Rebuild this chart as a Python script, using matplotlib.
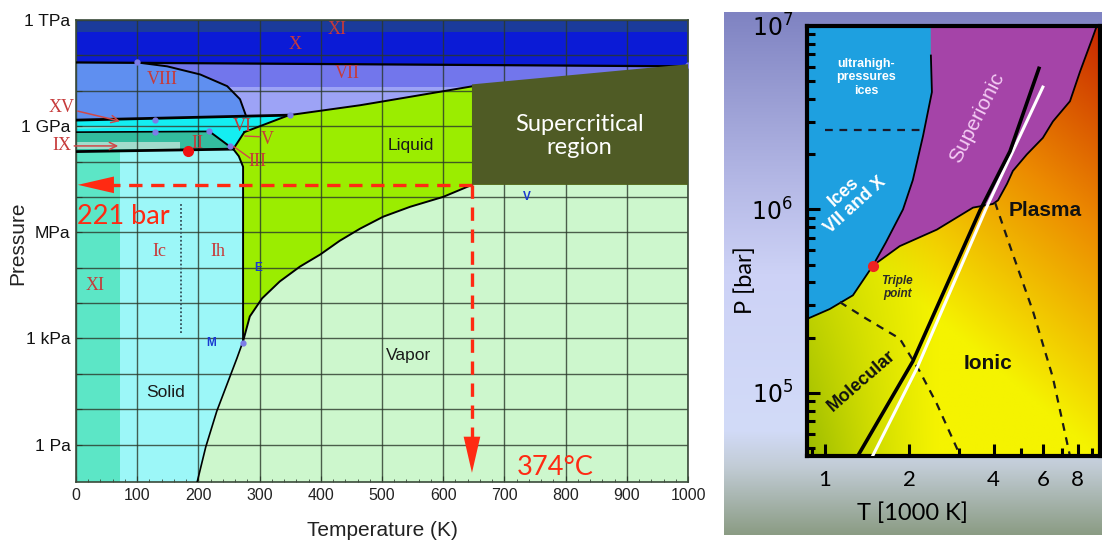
import numpy as np
import matplotlib
matplotlib.use("Agg")
import matplotlib.pyplot as plt
from matplotlib.colors import to_rgb

W, H = 1102, 545
plt.rcParams['mathtext.fontset'] = 'custom'
plt.rcParams['mathtext.rm'] = 'Lato'

NARROW = ['Liberation Sans Narrow', 'Liberation Sans', 'DejaVu Sans']
SANS = ['Liberation Sans', 'DejaVu Sans']
SERIF = ['Liberation Serif', 'DejaVu Serif']
HAND = ['Lato', 'DejaVu Sans']
RED = '#ff2a12'
NUMERAL = '#c63a3a'

# ---------------- left panel: water, T in K, log10(P / Pa)
LP_MIN, LP_MAX = -1.06, 12.0
xi_top_lp = 11.65
x_line_t = [0, 1000]
x_line_lp = [10.80, 10.69]
vii_light_lp = 10.1
viii_t = [0, 100, 149, 203, 247, 268, 278]
viii_lp = [10.80, 10.80, 10.69, 10.46, 10.13, 9.76, 9.28]
vi_top_t = [0, 348]
vi_top_lp = [9.17, 9.31]
ii_top_t = [0, 218]
ii_top_lp = [8.83, 8.85]
ii_iii_t = [218, 257]
ii_iii_lp = [8.85, 8.35]
ih_top_t = [0, 257]
ih_top_lp = [8.28, 8.35]
xi_edge_t = 72
ix_band_t = [0, 170]
ix_band_lp = [8.36, 8.55]
melt_hi_t = [275, 348, 464, 502, 649, 1000]
melt_hi_lp = [8.83, 9.31, 9.59, 9.70, 10.13, 10.69]
melt_lo_t = [275, 257, 266, 273, 273]
melt_lo_lp = [8.83, 8.35, 8.15, 7.85, 2.92]
vap_t = [273, 284, 304, 333, 366, 399, 431, 464, 502, 546, 600, 647]
vap_lp = [2.92, 3.62, 4.13, 4.61, 5.03, 5.37, 5.76, 6.10, 6.44, 6.72, 7.0, 7.34]
subl_t = [273, 263, 230, 212, 198]
subl_lp = [2.92, 2.44, 0.94, -0.07, -1.06]
ic_ih_t = 172
ic_ih_lp = [3.14, 6.83]
crit_t, crit_lp = 647, 7.34
arrow_tip_t, arrow_tip_lp = 3, -0.80
box_t = [647, 647, 1000, 1000]
box_lp = [7.34, 10.18, 10.75, 7.34]
point_t = [100, 129, 129, 218, 350, 273, 1000, 252]
point_lp = [10.80, 9.17, 8.83, 8.85, 9.31, 2.86, 10.72, 8.45]
ice2_dot = (183, 8.30)

numerals = [('XI', 426, 11.73), ('X', 358, 11.31), ('VII', 444, 10.49), ('VIII', 141, 10.32),
            ('II', 198, 8.52), ('VI', 271, 9.0), ('V', 312, 8.63), ('III', 297, 8.0),
            ('Ic', 137, 5.45), ('Ih', 232, 5.45), ('XI', 31, 4.49)]
phase_names = [('Liquid', 547, 8.46), ('Vapor', 544, 2.52), ('Solid', 147, 1.48)]
blue_marks = [('E', 297, 5.0), ('M', 221, 2.86), ('V', 737, 7.0)]
y_tick_lp = list(range(0, 13))
y_tick_text = ['1 Pa', '', '', '1 kPa', '', '', 'MPa', '', '', '1 GPa', '', '', '1 TPa']
x_ticks = list(range(0, 1001, 100))

# ---------------- right panel: T in 1000 K, log10(P / bar)
ice_t = [0.80, 0.863, 1.04, 1.259, 1.484, 1.65, 1.90, 2.06, 2.24, 2.41, 2.39, 2.39, 0.80]
ice_lp = [5.40, 5.403, 5.457, 5.532, 5.694, 5.82, 6.0, 6.16, 6.40, 6.64, 6.839, 7.05, 7.05]
sup_t = [1.484, 1.65, 1.90, 2.06, 2.24, 2.41, 2.39, 2.39, 9.6, 9.0, 8.14, 7.5, 6.52, 6.0, 5.26,
         4.69, 4.47, 4.15, 3.98, 3.38, 2.51, 1.85, 1.484]
sup_lp = [5.694, 5.82, 6.0, 6.16, 6.40, 6.64, 6.839, 7.05, 7.05, 6.93, 6.75, 6.59, 6.48, 6.39,
          6.30, 6.21, 6.14, 6.05, 6.03, 6.01, 5.89, 5.80, 5.694]
ice_dash_t = [1.0, 2.18]
ice_dash_lp = 6.435
melt_t = [1.31, 2.06, 3.58, 4.58, 5.81]
melt_lp = [4.656, 5.172, 5.995, 6.317, 6.769]
white_t = [1.48, 2.13, 3.79, 6.0]
white_lp = [4.656, 5.134, 6.016, 6.667]
mol_t = [1.13, 1.41, 1.85, 2.18, 2.51, 2.98]
mol_lp = [5.495, 5.403, 5.296, 5.118, 4.94, 4.688]
plasma_t = [4.05, 4.58, 5.53, 6.51, 7.5]
plasma_lp = [6.038, 5.80, 5.446, 5.086, 4.656]
triple = (1.484, 5.694)
r_xticks = [1, 2, 4, 6, 8]
r_yticks = [5, 6, 7]

fig = plt.figure(figsize=(W / 100, H / 100), dpi=100)

# ================= left chart
ax = fig.add_axes([76 / W, 1 - 482 / H, 612 / W, 462 / H])
ax.set_yscale('log')
ax.set_xlim(0, 1000)
ax.set_ylim(10 ** LP_MIN, 10 ** LP_MAX)
ax.set_facecolor('#cdf7cd')

def P(lp):
    return 10 ** np.asarray(lp, dtype=float)

def poly(ts, lps, color, z=1):
    ax.fill(ts, P(lps), color=color, lw=0, zorder=z)

poly([0, 1000, 1000, 0], [8.8, 8.8, 10.85, 10.85], '#7276ec')
poly([0, 1000, 1000, 0], [8.8, 8.8, vii_light_lp, vii_light_lp], '#9da3f6')
ax.fill_between(x_line_t, P(x_line_lp), 10 ** LP_MAX, color='#0b1bd6', lw=0, zorder=1)
ax.fill_between(x_line_t, 10 ** xi_top_lp, 10 ** LP_MAX, color='#1b3b9b', lw=0, zorder=1)
poly(viii_t + [0], viii_lp + [vi_top_lp[0]], '#5f8ff0')
poly(vi_top_t + melt_hi_t[:1] + melt_lo_t[1:2] + ii_iii_t[::-1] + ii_top_t[::-1],
     vi_top_lp + melt_hi_lp[:1] + melt_lo_lp[1:2] + ii_iii_lp[::-1] + ii_top_lp[::-1], '#14eef2')
poly([0, 218, 0], [9.0, 9.0, 8.93], '#7cf0e4')
poly(ii_top_t + ii_iii_t[1:] + ih_top_t[::-1], ii_top_lp + ii_iii_lp[1:] + ih_top_lp[::-1], '#33bc9e')
poly([ix_band_t[0], ix_band_t[1], ix_band_t[1], ix_band_t[0]],
     [ix_band_lp[0], ix_band_lp[0], ix_band_lp[1], ix_band_lp[1]], '#a2dccc')
poly([0] + subl_t[::-1] + melt_lo_t[:1:-1] + melt_lo_t[1:2] + ih_top_t[::-1],
     [LP_MIN] + subl_lp[::-1] + melt_lo_lp[:1:-1] + melt_lo_lp[1:2] + ih_top_lp[::-1], '#9cf7f8')
poly([0, xi_edge_t, xi_edge_t, 0], [LP_MIN, LP_MIN, ih_top_lp[0], ih_top_lp[0]], '#5ce6c6')
poly(vap_t + [1000] + melt_hi_t[::-1] + melt_lo_t[1:],
     vap_lp + [crit_lp] + melt_hi_lp[::-1] + melt_lo_lp[1:], '#9bed00')

# grid
for t in x_ticks:
    ax.axvline(t, color='#2a382a', lw=1, alpha=0.8, zorder=2)
for lp in y_tick_lp:
    ax.axhline(10 ** lp, color='#2a382a', lw=1, alpha=0.8, zorder=2)

# phase boundaries
for ts, lps, lw in [(x_line_t, x_line_lp, 1.6), (viii_t[1:], viii_lp[1:], 1.4), (vi_top_t, vi_top_lp, 2.0),
                    (ii_top_t, ii_top_lp, 1.2), (ii_iii_t, ii_iii_lp, 1.4), (ih_top_t, ih_top_lp, 2.0),
                    (melt_hi_t, melt_hi_lp, 1.4), (melt_lo_t, melt_lo_lp, 1.4),
                    (vap_t, vap_lp, 1.4), (subl_t, subl_lp, 1.2)]:
    ax.plot(ts, P(lps), color='black', lw=lw, zorder=3)
ax.plot([ic_ih_t] * 2, P(ic_ih_lp), color='#34505a', lw=1.3, ls=(0, (1, 1.2)), zorder=3)
ax.plot(point_t, P(point_lp), 'o', color='#7c7ce8', ms=3.5, zorder=3)
ax.plot(ice2_dot[0], 10 ** ice2_dot[1], 'o', color='#ee1111', ms=7, zorder=4)

# supercritical box
ax.fill(box_t, P(box_lp), color='#4f5b25', lw=0, zorder=4)
ax.text(823, 10 ** 8.72, 'Supercritical\nregion', color='white', fontsize=17, family=HAND,
        ha='center', va='center', linespacing=1.15, zorder=6)

# red dashed arrows to the critical point values
ax.plot([crit_t, 60], [10 ** crit_lp] * 2, color=RED, lw=2.4, ls=(0, (4, 2.6)), zorder=5)
ax.plot([crit_t] * 2, [10 ** crit_lp, 10 ** 0.2], color=RED, lw=2.4, ls=(0, (4, 2.6)), zorder=5)
head = dict(arrowstyle='-|>,head_length=1.3,head_width=0.3', mutation_scale=20, color=RED,
            lw=0, shrinkA=0, shrinkB=0)
ax.annotate('', xy=(arrow_tip_t, 10 ** crit_lp), xytext=(70, 10 ** crit_lp), arrowprops=head, zorder=5)
ax.annotate('', xy=(crit_t, 10 ** arrow_tip_lp), xytext=(crit_t, 10 ** 0.3), arrowprops=head, zorder=5)
ax.text(2, 10 ** 6.44, '221 bar', color=RED, fontsize=19.5, family=HAND, ha='left', va='center', zorder=6)
ax.text(783, 10 ** -0.66, '374°C', color=RED, fontsize=19.5, family=HAND, ha='center', va='center', zorder=6)

for s, t, lp in numerals:
    ax.text(t, 10 ** lp, s, color=NUMERAL, fontsize=13, family=SERIF, ha='center', va='center', zorder=6)
for s, t, lp in phase_names:
    ax.text(t, 10 ** lp, s, color='#1a1a1a', fontsize=12.5, family=NARROW, ha='center', va='center', zorder=6)
for s, t, lp in blue_marks:
    ax.text(t, 10 ** lp, s, color='#1a3ad0', fontsize=8.5, family=SANS, fontweight='bold',
            ha='center', va='center', zorder=6)

# labels that point into the high-pressure ices
small = dict(arrowstyle='->', color='#d04848', lw=1.1, shrinkA=0, shrinkB=0)
ax.annotate('XV', xy=(72, 10 ** 9.14), xytext=(-23, 10 ** 9.53), color=NUMERAL, fontsize=13,
            family=SERIF, ha='center', va='center', arrowprops=small, annotation_clip=False, zorder=6)
ax.annotate('IX', xy=(69, 10 ** 8.44), xytext=(-23, 10 ** 8.44), color=NUMERAL, fontsize=13,
            family=SERIF, ha='center', va='center', arrowprops=small, annotation_clip=False, zorder=6)
ax.plot([276, 300], [10 ** 8.72, 10 ** 8.70], color='#d04848', lw=1, zorder=5)
ax.plot([258, 284], [10 ** 8.42, 10 ** 8.10], color='#d04848', lw=1, zorder=5)

ax.set_xticks(x_ticks)
ax.set_xticks(range(0, 1001, 20), minor=True)
ax.set_xticklabels([str(t) for t in x_ticks], fontsize=11.5, family=NARROW, color='#222222')
ax.set_yticks(P(y_tick_lp))
ax.set_yticklabels(y_tick_text, fontsize=12.5, family=SANS, color='#111111')
ax.tick_params(axis='both', which='both', direction='in', color='#3a4a3a')
ax.tick_params(axis='both', which='major', length=4, pad=4)
ax.tick_params(axis='both', which='minor', length=2.5)
for sp in ax.spines.values():
    sp.set_color('#3a4a3a')
    sp.set_linewidth(1.2)
fig.text(18 / W, 1 - 243 / H, 'Pressure', rotation=90, fontsize=15, family=SANS,
         ha='center', va='center', color='#222222')
fig.text(382 / W, 1 - 530 / H, 'Temperature (K)', fontsize=15, family=NARROW,
         ha='center', va='center', color='#222222')

# ================= right chart background panel
bg = fig.add_axes([724 / W, 1 - 535 / H, 378 / W, 523 / H], zorder=0)
stops = [0.0, 0.33, 0.5, 0.8, 0.87, 1.0]
stop_cols = ['#7f83c2', '#b5b9e6', '#cdd2f6', '#d2dbf8', '#c2ccd6', '#8b9c84']
yy = np.linspace(0, 1, 300)
grad = np.stack([np.interp(yy, stops, [to_rgb(c)[k] for c in stop_cols]) for k in range(3)], axis=-1)
bg.imshow(grad[:, None, :], aspect='auto', extent=(0, 1, 1, 0))
bg.set_axis_off()

ax2 = fig.add_axes([807 / W, 1 - 456 / H, 293 / W, 430 / H], zorder=2)
ax2.set_xscale('log')
ax2.set_yscale('log')
ax2.set_xlim(0.863, 9.6)
ax2.set_ylim(10 ** 4.656, 10 ** 6.968)

n = 240
u, v = np.meshgrid(np.linspace(0, 1, n), np.linspace(0, 1, n))
olive, yellow = np.array(to_rgb('#9cbc00')), np.array(to_rgb('#f5f300'))
orange, red = np.array(to_rgb('#ec8a00')), np.array(to_rgb('#c41c00'))
heat = np.clip(0.95 * v + 0.55 * u - 0.55, 0, 1)[..., None]
warm = np.where(heat < 0.5, yellow + (orange - yellow) * heat / 0.5, orange + (red - orange) * (heat - 0.5) / 0.5)
g = (np.clip(1 - u / 0.45, 0, 1) ** 1.2 * np.clip(1 - v / 0.9, 0, 1))[..., None]
rgb = warm * (1 - g) + olive * g
ax2.imshow(rgb, origin='lower', extent=(0, 1, 0, 1), transform=ax2.transAxes, aspect='auto', zorder=0)

ax2.fill(ice_t, P(ice_lp), color='#1ea0e0', lw=0, zorder=1)
ax2.fill(sup_t, P(sup_lp), color='#a544a8', lw=0, zorder=1)
ax2.plot(ice_t[1:11], P(ice_lp[1:11]), color='black', lw=1.3, zorder=2)
ax2.plot(sup_t[8:], P(sup_lp[8:]), color='black', lw=1.3, zorder=2)
ax2.plot(ice_dash_t, [10 ** ice_dash_lp] * 2, color='#1a1a2a', lw=1.6, ls=(0, (3.5, 3)), zorder=2)
ax2.plot(mol_t, P(mol_lp), color='#1a1a1a', lw=1.6, ls=(0, (3.5, 3)), zorder=2)
ax2.plot(plasma_t, P(plasma_lp), color='#1a1a1a', lw=1.6, ls=(0, (3.5, 3)), zorder=2)
ax2.plot(white_t, P(white_lp), color='white', lw=2.2, zorder=3)
ax2.plot(melt_t, P(melt_lp), color='black', lw=2.6, zorder=3)
ax2.plot(triple[0], 10 ** triple[1], 'o', color='#ee2222', ms=7, zorder=4)

ax2.text(1.40, 10 ** 6.72, 'ultrahigh-\npressures\nices', color='white', fontsize=9, family=SANS,
         fontweight='bold', ha='center', va='center', linespacing=1.15, zorder=5)
ax2.text(1.228, 10 ** 6.06, 'Ices\nVII and X', color='white', fontsize=13, family=SANS,
         fontweight='bold', ha='center', va='center', rotation=42, linespacing=1.0, zorder=5)
ax2.text(3.49, 10 ** 6.50, 'Superionic', color='#f4ccf4', fontsize=15, family=SANS,
         ha='center', va='center', rotation=63, zorder=5)
ax2.text(6.1, 10 ** 5.995, 'Plasma', color='#111111', fontsize=15, family=SANS, fontweight='bold',
         ha='center', va='center', zorder=5)
ax2.text(3.82, 10 ** 5.16, 'Ionic', color='#111111', fontsize=15, family=SANS, fontweight='bold',
         ha='center', va='center', zorder=5)
ax2.text(1.356, 10 ** 5.065, 'Molecular', color='#111111', fontsize=13, family=SANS, fontweight='bold',
         ha='center', va='center', rotation=41, zorder=5)
ax2.text(1.81, 10 ** 5.575, 'Triple\npoint', color='#2a2a2a', fontsize=8.5, family=SANS,
         fontweight='bold', style='italic', ha='center', va='center', linespacing=1.1, zorder=5)

ax2.set_xticks(r_xticks)
ax2.set_xticklabels([str(t) for t in r_xticks], fontsize=16, family=HAND)
ax2.xaxis.set_minor_formatter(plt.NullFormatter())
ax2.set_yticks([10 ** k for k in r_yticks])
ax2.set_yticklabels([r'$\mathregular{10^{%d}}$' % k for k in r_yticks], fontsize=17)
ax2.tick_params(axis='both', which='both', direction='in', width=2.2, color='black')
ax2.tick_params(axis='both', which='major', length=9, pad=10)
ax2.tick_params(axis='both', which='minor', length=6)
for sp in ax2.spines.values():
    sp.set_linewidth(3)
fig.text(745 / W, 1 - 280 / H, 'P [bar]', rotation=90, fontsize=17, family=HAND, ha='center', va='center')
fig.text(912 / W, 1 - 513 / H, 'T [1000 K]', fontsize=17, family=HAND, ha='center', va='center')

fig.savefig('out.png', dpi=100)
